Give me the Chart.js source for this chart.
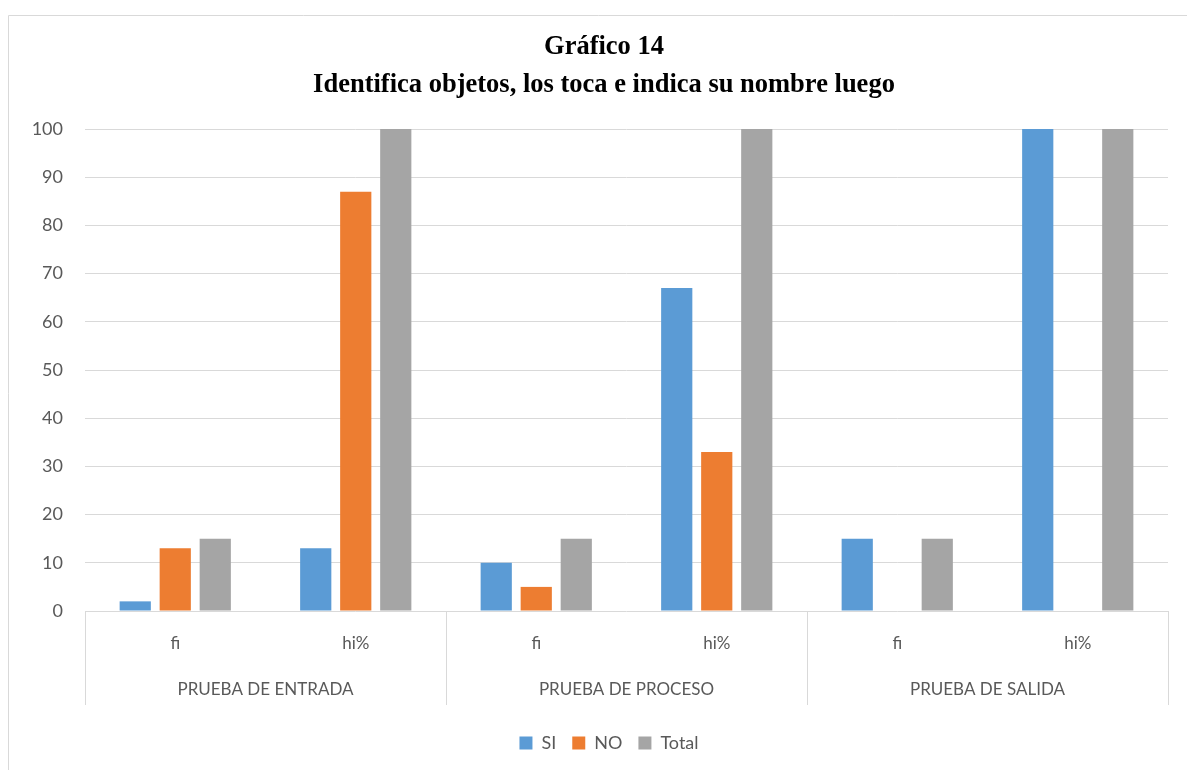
<!DOCTYPE html>
<html>
<head>
<meta charset="utf-8">
<script src="https://cdn.jsdelivr.net/npm/chart.js@4.4.0/dist/chart.umd.min.js"></script>
<style>
  html, body { margin: 0; padding: 0; background: #fff; }
  #wrap { width: 1187px; height: 770px; position: relative; }
</style>
</head>
<body>
<div id="wrap"><canvas id="grafico"></canvas></div>
<script>
// datos
const groups = ['PRUEBA DE ENTRADA', 'PRUEBA DE PROCESO', 'PRUEBA DE SALIDA'];
const subLabels = ['fi', 'hi%', 'fi', 'hi%', 'fi', 'hi%'];
const siValues = [2, 13, 10, 67, 15, 100];
const noValues = [13, 87, 5, 33, 0, 0];
const totalValues = [15, 100, 15, 100, 15, 100];
const yTicks = [0, 10, 20, 30, 40, 50, 60, 70, 80, 90, 100];

const textFont = "Lato, 'Open Sans', sans-serif";

// marco exterior + etiquetas de grupo con separadores
const groupAxis = {
    id: 'groupAxis',
    afterLayout(chart) {
        // centrar titulo y leyenda como en el original
        chart.legend.left = 50;
        chart.titleBlock.left = 40;
    },
    beforeDraw(chart) {
        const ctx = chart.ctx;
        ctx.save();
        ctx.strokeStyle = '#d9d9d9';
        ctx.lineWidth = 1;
        ctx.beginPath();
        ctx.moveTo(8.5, 780);
        ctx.lineTo(8.5, 15.5);
        ctx.lineTo(1200, 15.5);
        ctx.stroke();
        ctx.restore();
    },
    afterDraw(chart) {
        const ctx = chart.ctx;
        const x = chart.scales.x;
        const area = chart.chartArea;
        const bottom = area.bottom + 94;
        const edges = [area.left];
        for (let g = 1; g < groups.length; g++) {
            edges.push((x.getPixelForValue(g * 2 - 1) + x.getPixelForValue(g * 2)) / 2);
        }
        edges.push(area.right);
        ctx.save();
        ctx.strokeStyle = '#d9d9d9';
        ctx.lineWidth = 1;
        edges.forEach((e) => {
            const px = Math.round(e) + 0.5;
            ctx.beginPath();
            ctx.moveTo(px, area.bottom);
            ctx.lineTo(px, bottom);
            ctx.stroke();
        });
        ctx.fillStyle = '#595959';
        ctx.font = '17px ' + textFont;
        ctx.textAlign = 'center';
        ctx.textBaseline = 'middle';
        groups.forEach((name, i) => {
            ctx.fillText(name, (edges[i] + edges[i + 1]) / 2, area.bottom + 79);
        });
        ctx.restore();
    }
};

new Chart(document.getElementById('grafico'), {
    type: 'bar',
    data: {
        labels: subLabels,
        datasets: [
            { label: 'SI', data: siValues, backgroundColor: '#5b9bd5' },
            { label: 'NO', data: noValues, backgroundColor: '#ed7d31' },
            { label: 'Total', data: totalValues, backgroundColor: '#a5a5a5' }
        ]
    },
    options: {
        responsive: true,
        maintainAspectRatio: false,
        animation: false,
        datasets: {
            bar: { categoryPercentage: 0.665, barPercentage: 0.78 }
        },
        layout: { padding: { top: 0, right: 19, bottom: 8, left: 0 } },
        plugins: {
            title: {
                display: true,
                text: ['Gráfico 14', 'Identifica objetos, los toca e indica su nombre luego'],
                color: '#000',
                font: { family: "'Liberation Serif', 'Times New Roman', serif", size: 26.5, weight: 'bold', lineHeight: 1.434 },
                padding: { top: 28, bottom: 25 }
            },
            legend: {
                position: 'bottom',
                labels: {
                    color: '#595959',
                    font: { family: textFont, size: 18 },
                    boxWidth: 13,
                    boxHeight: 13,
                    padding: 16
                }
            },
            tooltip: { enabled: false }
        },
        scales: {
            x: {
                grid: { display: false },
                border: { display: false },
                ticks: {
                    color: '#595959',
                    font: { family: textFont, size: 17 },
                    padding: 14,
                    maxRotation: 0
                },
                afterFit(scale) { scale.height = 107; }
            },
            y: {
                min: 0,
                max: 100,
                afterBuildTicks(scale) { scale.ticks = yTicks.map((v) => ({ value: v })); },
                grid: { color: '#d9d9d9', drawTicks: false },
                border: { display: false },
                ticks: {
                    color: '#595959',
                    font: { family: textFont, size: 18 },
                    padding: 22
                },
                afterFit(scale) { scale.width = 85; }
            }
        }
    },
    plugins: [groupAxis]
});
</script>
</body>
</html>
